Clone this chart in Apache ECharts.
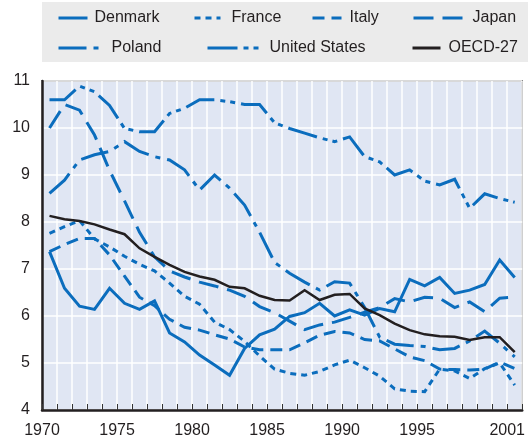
<!DOCTYPE html>
<html>
<head>
<meta charset="utf-8">
<script src="https://cdn.jsdelivr.net/npm/echarts@6/dist/echarts.min.js"></script>
<style>
html,body{margin:0;padding:0;background:#fff;}
#chart{width:528px;height:441px;}
</style>
</head>
<body>
<div id="chart"></div>
<script>
const categories = ['1970','1971','1972','1973','1974','1975','1976','1977','1978','1979','1980','1981','1982','1983','1984','1985','1986','1987','1988','1989','1990','1991','1992','1993','1994','1995','1996','1997','1998','1999','2000','2001'];
const tickLabels = [1970, 1975, 1980, 1985, 1990, 1995, 2001];
const yTicks = [4, 5, 6, 7, 8, 9, 10, 11];

const denmark = [7.37,6.59,6.21,6.14,6.59,6.27,6.14,6.32,5.64,5.45,5.17,4.96,4.74,5.31,5.60,5.72,5.99,6.07,6.27,6.00,6.13,6.02,6.16,6.09,6.78,6.64,6.82,6.48,6.55,6.67,7.19,6.82];
const france = [7.76,7.90,8.03,7.64,7.47,7.27,7.10,6.96,6.70,6.42,6.25,5.87,5.71,5.46,5.15,4.87,4.78,4.74,4.82,4.96,5.06,4.90,4.72,4.45,4.40,4.39,4.87,4.83,4.67,4.88,5.00,4.53];
const italy = [7.37,7.52,7.65,7.65,7.30,6.85,6.40,6.22,5.93,5.76,5.70,5.60,5.51,5.34,5.28,5.28,5.28,5.43,5.59,5.67,5.64,5.50,5.47,5.30,5.13,5.05,4.87,4.86,4.85,4.87,5.02,4.88];
const japan = [10.00,10.50,10.38,9.85,9.10,8.45,7.78,7.26,6.96,6.83,6.72,6.64,6.55,6.42,6.20,6.07,5.89,5.71,5.81,5.87,5.97,6.08,6.18,6.37,6.30,6.40,6.38,6.18,6.30,6.09,6.38,6.40];
const poland = [8.61,8.89,9.32,9.43,9.50,9.71,9.50,9.39,9.32,9.11,8.68,9.00,8.72,8.36,7.78,7.14,6.91,6.72,6.55,6.73,6.70,6.18,5.55,5.40,5.37,5.35,5.28,5.31,5.47,5.68,5.42,5.13];
const unitedStates = [10.60,10.60,10.89,10.77,10.48,9.99,9.92,9.92,10.31,10.42,10.60,10.60,10.56,10.50,10.50,10.11,9.99,9.89,9.79,9.71,9.81,9.39,9.28,9.00,9.11,8.87,8.79,8.91,8.29,8.60,8.50,8.42];
const oecd27 = [8.13,8.06,8.02,7.95,7.84,7.74,7.44,7.26,7.09,6.94,6.84,6.77,6.62,6.59,6.43,6.34,6.33,6.55,6.34,6.45,6.47,6.16,6.02,5.84,5.70,5.61,5.57,5.56,5.49,5.55,5.55,5.23];

const BLUE = '#0b6dbd';
const DARK = '#231f20';
const FONT = "'Liberation Sans', Arial, sans-serif";

const seriesDefs = [
  {name: 'Denmark', data: denmark, dash: 'solid', color: BLUE, width: 3},
  {name: 'France', data: france, dash: [6, 5], color: BLUE, width: 3},
  {name: 'Italy', data: italy, dash: [12, 7], color: BLUE, width: 3},
  {name: 'Japan', data: japan, dash: [20, 9], color: BLUE, width: 3},
  {name: 'Poland', data: poland, dash: [28, 7, 5, 7], color: BLUE, width: 3},
  {name: 'United States', data: unitedStates, dash: [30, 6, 5, 5, 5, 6], color: BLUE, width: 3},
  {name: 'OECD-27', data: oecd27, dash: 'solid', color: DARK, width: 2.5}
];

// legend layout: [name, iconLeft, iconWidth, textGap, rowCenter]
const legendLayout = [
  ['Denmark', 57, 29, 7, 17],
  ['France', 193, 26, 11, 17],
  ['Italy', 311, 29, 8, 17],
  ['Japan', 412, 51, 8, 17],
  ['Poland', 57, 42, 11, 47],
  ['United States', 206, 52, 10, 47],
  ['OECD-27', 411, 28, 8, 47]
];

const chart = echarts.init(document.getElementById('chart'), null, {renderer: 'canvas'});

const option = {
  animation: false,
  backgroundColor: '#ffffff',
  textStyle: {fontFamily: FONT},
  graphic: [{
    type: 'rect',
    left: 42, top: 2,
    shape: {width: 486, height: 60},
    style: {fill: '#ebebeb'},
    z: -10, silent: true
  }],
  legend: legendLayout.map(([name, left, w, gap, cy]) => ({
    data: [name],
    left: left,
    top: cy - 7,
    itemWidth: w,
    itemHeight: 14,
    padding: 0,
    selectedMode: false,
    itemStyle: {opacity: 0, borderWidth: 0},
    lineStyle: {width: 3},
    textStyle: {fontSize: 16, color: DARK, fontFamily: FONT, padding: [0, 0, 0, gap - 5]}
  })),
  grid: {
    left: 42, right: 2, top: 81, bottom: 31,
    show: true,
    backgroundColor: '#e0e6f3',
    borderColor: '#3a3a3a',
    borderWidth: 1.5,
    containLabel: false
  },
  xAxis: [{
    type: 'value',
    min: 1970, max: 2002, interval: 1,
    axisLine: {show: true, onZero: false, lineStyle: {color: DARK, width: 2.5}},
    axisTick: {show: true, inside: true, length: 6, lineStyle: {color: '#333', width: 1}},
    splitLine: {show: true, lineStyle: {color: '#ffffff', width: 1.5}},
    axisLabel: {
      show: true, margin: 13, fontSize: 16, color: DARK, fontFamily: FONT,
      formatter: v => tickLabels.indexOf(v) >= 0 ? String(v) : ''
    }
  }, {
    type: 'category',
    data: categories,
    boundaryGap: true,
    show: false,
    position: 'bottom'
  }],
  yAxis: {
    type: 'value',
    min: yTicks[0], max: yTicks[yTicks.length - 1], interval: 1,
    axisLine: {show: true, lineStyle: {color: DARK, width: 2.5}},
    axisTick: {show: false},
    splitLine: {show: true, lineStyle: {color: '#ffffff', width: 1.5}},
    axisLabel: {margin: 12, fontSize: 16, color: DARK, fontFamily: FONT}
  },
  series: seriesDefs.map(s => ({
    name: s.name,
    type: 'line',
    xAxisIndex: 1,
    yAxisIndex: 0,
    data: s.data,
    symbol: 'none',
    showSymbol: false,
    lineStyle: {color: s.color, width: s.width, type: s.dash, cap: 'butt', join: 'miter'},
    itemStyle: {color: s.color},
    emphasis: {disabled: true},
    z: s.name === 'OECD-27' ? 5 : 3
  }))
};

chart.setOption(option);
</script>
</body>
</html>
